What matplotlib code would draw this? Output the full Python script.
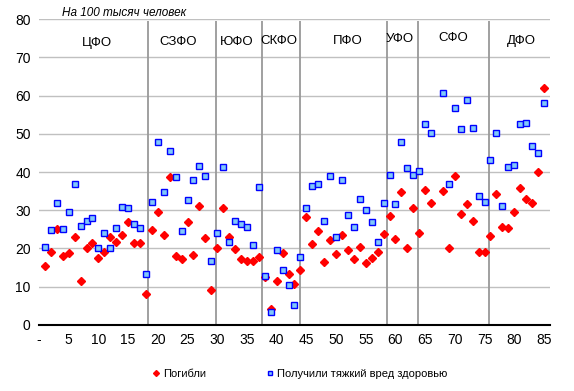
import numpy as np
import matplotlib.pyplot as plt
from matplotlib.lines import Line2D

plt.rcParams['font.family'] = ['Liberation Sans', 'DejaVu Sans']

nan = np.nan
region = np.arange(1, 86)

killed = [15.4, 19.1, 25.2, 18.1, 18.8, 23.0, 11.5, 20.2, 21.5, 17.6,
          19.1, 22.9, 21.6, 23.6, 26.9, 21.5, 21.5, 8.1, 24.9, 29.6,
          23.5, 38.7, 18.1, 17.3, 26.9, 18.3, 31.0, 22.7, 9.2, 20.1,
          30.6, 22.9, 19.9, 17.3, 16.7, 16.8, 17.9, 12.5, 4.2, 11.6,
          18.7, 13.4, 10.7, 14.5, 28.3, 21.3, 24.6, 16.5, 22.1, 18.6,
          23.6, 19.5, 17.3, 20.5, 16.3, 17.6, 19.2, 23.9, 28.6, 22.5,
          34.8, 20.1, 30.6, 24.0, 35.3, 31.9, nan, 35.0, 20.0, 38.9,
          28.9, 31.7, 27.1, 19.2, 19.0, 23.3, 34.2, 25.5, 25.3, 29.5,
          35.7, 33.0, 32.0, 39.9, 61.9]

injured = [20.5, 24.8, 31.8, 25.2, 29.5, 36.8, 25.8, 27.1, 27.9, 20.1,
           24.0, 20.1, 25.3, 30.8, 30.5, 26.3, 25.3, 13.2, 32.1, 47.9,
           34.7, 45.6, 38.6, 24.5, 32.6, 37.8, 41.7, 38.9, 16.6, 24.0,
           41.4, 21.6, 27.1, 26.3, 25.5, 20.8, 36.0, 12.9, 3.3, 19.6,
           14.3, 10.4, 5.2, 17.8, 30.5, 36.3, 36.8, 27.1, 38.9, 22.9,
           38.0, 28.7, 25.6, 32.9, 30.1, 26.9, 21.6, 31.8, 39.1, 31.6,
           47.8, 41.0, 39.1, 40.2, 52.5, 50.1, nan, 60.7, 36.8, 56.8,
           51.3, 58.9, 51.6, 33.8, 32.2, 43.2, 50.1, 31.2, 41.4, 41.9,
           52.6, 52.9, 46.9, 45.1, 58.1]

districts = ['ЦФО', 'СЗФО', 'ЮФО', 'СКФО', 'ПФО', 'УФО', 'СФО', 'ДФО']
district_x = [9.7, 23.45, 33.3, 40.3, 52.05, 60.75, 69.75, 81.25]
district_y = [73.8, 74.1, 74.1, 74.3, 74.4, 74.7, 75.0, 74.3]
borders = [18.4, 29.75, 37.6, 44.0, 58.6, 63.85, 75.8]

fig = plt.figure(figsize=(5.74, 3.91), dpi=100)
ax = fig.add_axes([0.068, 0.169, 0.890, 0.782])

ax.set_xlim(0, 86)
ax.set_ylim(0, 80)
ax.set_yticks(np.arange(0, 81, 10))
ax.set_xticks(np.arange(0, 86, 5))
ax.set_xticklabels(['-'] + [str(t) for t in range(5, 86, 5)])
ax.grid(axis='y', color='#c0c0c0', lw=1)
ax.set_axisbelow(True)
for s in ['left', 'right', 'top']:
    ax.spines[s].set_visible(False)
ax.spines['bottom'].set_color('black')
ax.spines['bottom'].set_linewidth(1.5)
ax.tick_params(length=0, labelsize=10, pad=6)

ax.vlines(borders, 0, 79.5, colors='#999999', lw=1.3, zorder=1)

ax.plot(region, killed, ls='none', marker='D', ms=4, color='#ff0000',
        mec='#ff0000', zorder=3)
ax.plot(region, injured, ls='none', marker='s', ms=4.6, mfc='#80c8fa',
        mec='#0000ff', mew=1, zorder=4)

for name, x, y in zip(districts, district_x, district_y):
    ax.text(x, y, name, ha='center', va='center', fontsize=9.5)

fig.text(0.108, 0.966, 'На 100 тысяч человек', fontsize=8.5, style='italic',
         ha='left', va='center')

handles = [Line2D([], [], ls='none', marker='D', ms=3, color='#ff0000'),
           Line2D([], [], ls='none', marker='s', ms=3.5, mfc='#80c8fa',
                  mec='#0000ff', mew=1)]
fig.legend(handles, ['Погибли', 'Получили тяжкий вред здоровью'],
           loc='center', bbox_to_anchor=(0.523, 0.044), ncol=2, frameon=False,
           fontsize=8, handlelength=0.6, handletextpad=0.3, columnspacing=5.5)

fig.savefig('out.png', dpi=100)
